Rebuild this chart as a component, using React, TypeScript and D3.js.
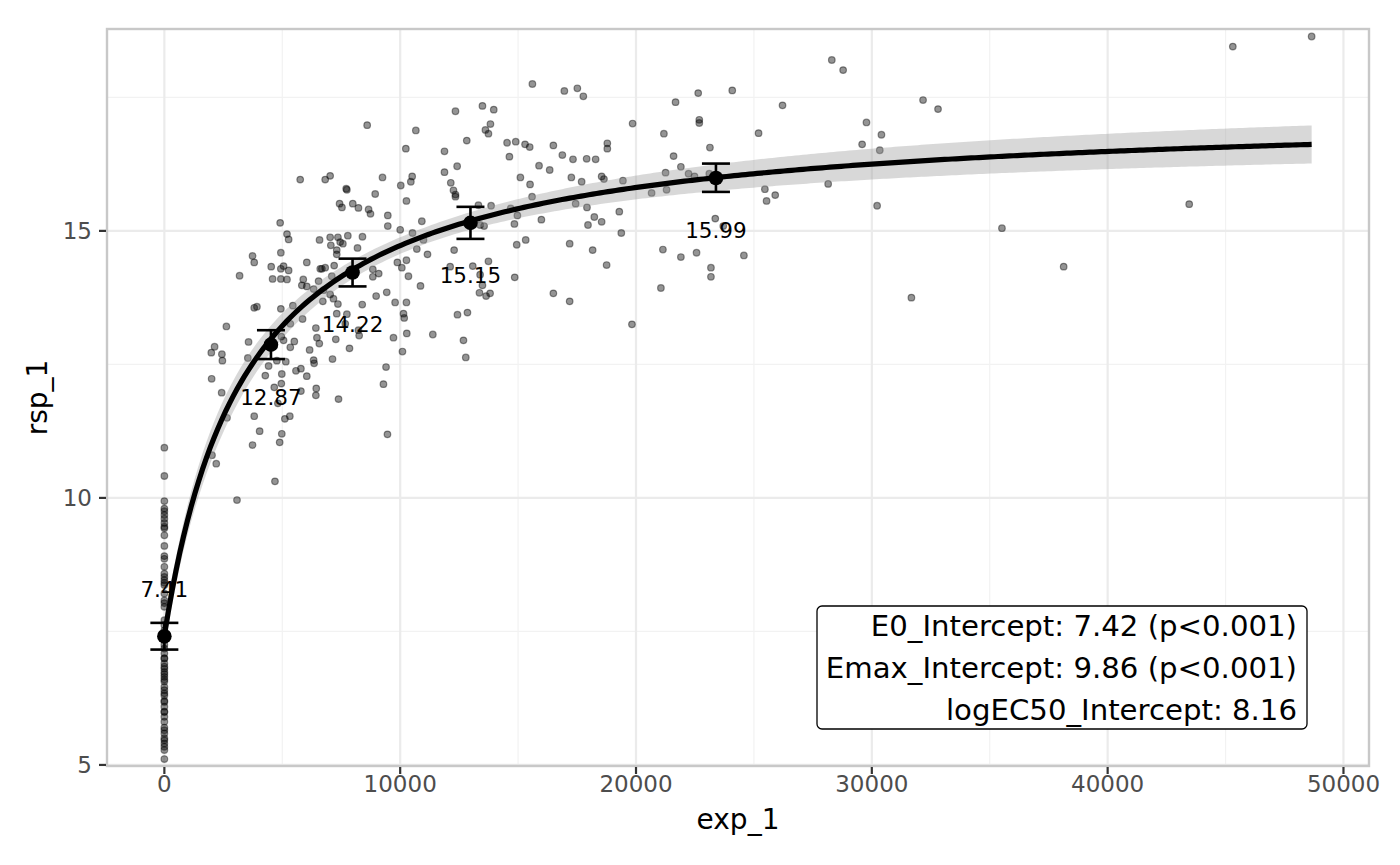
import React from "react";
import * as d3 from "d3";

// ---------- data ----------
const E0 = 7.42;
const Emax = 9.86;
const logEC50 = 8.16;

const annotationLines = [
  "E0_Intercept: 7.42 (p<0.001)",
  "Emax_Intercept: 9.86 (p<0.001)",
  "logEC50_Intercept: 8.16",
];

const xTicks = [0, 10000, 20000, 30000, 40000, 50000];
const xMinor = [5000, 15000, 25000, 35000, 45000];
const yTicks = [5, 10, 15];
const yMinor = [7.5, 12.5, 17.5];
const yLimits = [4.98, 18.78];

// binned summaries
const binExp = [0, 4520, 7980, 12980, 23390];
const binMean = [7.41, 12.87, 14.22, 15.15, 15.99];
const binLo = [7.16, 12.6, 13.96, 14.85, 15.73];
const binHi = [7.66, 13.14, 14.48, 15.45, 16.26];
const binLabelNudge = [0.88, -0.98, -0.96, -0.99, -0.98];

// observations at exposure 0
const rspAtZero = [
  10.94, 10.41, 9.94, 9.8, 9.75, 9.68, 9.61, 9.53, 9.46, 9.43, 9.3, 9.1, 8.91,
  8.86, 8.71, 8.58, 8.52, 8.46, 8.41, 8.37, 8.21, 8.08, 8.03, 7.96, 7.71, 7.52,
  7.34, 7.18, 7.09, 6.99, 6.9, 6.84, 6.74, 6.65, 6.56, 6.46, 6.34, 6.18, 6.09,
  5.99, 5.9, 5.81, 5.65, 5.59, 5.46, 5.4, 5.34, 5.28, 5.11, 7.45, 7.62, 7.25,
  6.2, 6.4, 6.6, 6.8, 5.7, 6.0, 7.0, 5.5, 6.3, 6.7,
];

// observations with low exposure (< ~10500)
const obsLow: [number, number][] = [
  [5760, 15.96], [6820, 15.96], [7030, 16.03], [7710, 15.79], [7740, 15.77], [9250, 16.0],
  [10025, 15.85], [8940, 15.69], [7990, 15.51], [7430, 15.51], [7530, 15.44], [8230, 15.43],
  [8660, 15.4], [8740, 15.32], [9475, 15.29], [10265, 15.56], [9475, 15.09], [10000, 15.02],
  [4910, 15.15], [5200, 14.94], [5270, 14.84], [6580, 14.83], [7030, 14.88], [7360, 14.88],
  [7455, 14.79], [7570, 14.76], [7780, 14.91], [8400, 14.89], [8190, 14.68], [7060, 14.73],
  [7310, 14.64], [7310, 14.56], [3740, 14.53], [3810, 14.41], [4940, 14.59], [6040, 14.41],
  [4530, 14.33], [4940, 14.29], [5055, 14.34], [5270, 14.26], [4590, 14.1], [4940, 14.1],
  [5200, 14.09], [3190, 14.16], [5890, 14.09], [5830, 13.98], [6040, 13.96], [6610, 14.29],
  [6680, 14.29], [6820, 14.31], [7200, 14.35], [6540, 14.06], [6330, 13.91], [6750, 13.89],
  [7100, 14.15], [7030, 13.81], [7170, 13.73], [7360, 13.63], [7310, 13.45], [6720, 13.68],
  [7740, 13.44], [7670, 13.26], [8390, 13.62], [8840, 14.28], [9090, 14.2], [8840, 14.14],
  [9880, 14.41], [10070, 14.31], [10265, 14.45], [10350, 14.15], [8980, 13.78], [9430, 13.85],
  [9785, 13.66], [10265, 13.66], [10140, 13.45], [10170, 13.37], [10280, 13.08], [3810, 13.56],
  [3925, 13.58], [4940, 13.54], [5450, 13.6], [5860, 13.35], [2630, 13.21], [2130, 12.83],
  [1990, 12.72], [2440, 12.69], [2460, 12.57], [3570, 12.92], [4960, 13.02], [5055, 12.95],
  [5340, 12.82], [5510, 12.93], [5340, 13.26], [6425, 13.18], [6470, 13.0], [6570, 12.89],
  [6160, 12.77], [6330, 12.58], [6350, 12.52], [7270, 12.97], [7850, 12.8], [8230, 13.14],
  [8260, 13.04], [7130, 12.6], [3540, 12.62], [4420, 12.47], [4770, 12.57], [5150, 12.55],
  [4280, 12.29], [4980, 12.32], [4960, 12.14], [4660, 12.07], [5580, 12.38], [5790, 12.42],
  [6040, 12.28], [6440, 12.05], [6425, 11.92], [5790, 12.0], [7385, 11.85], [2005, 12.23],
  [2430, 11.97], [4815, 11.77], [5110, 11.48], [5320, 11.53], [3810, 11.53], [4040, 11.25],
  [4980, 11.2], [4890, 11.04], [3740, 10.99], [2655, 11.5], [9400, 12.45], [9290, 12.13],
  [9715, 13.0], [10096, 12.74], [9460, 11.19], [2020, 10.8], [2200, 10.64], [4690, 10.31],
  [3080, 9.96], [8600, 16.98],
];

// observations with mid exposure (~10000 - 23000)
const obsMid: [number, number][] = [
  [15606, 17.75], [16961, 17.62], [17512, 17.67], [17766, 17.52], [22637, 17.58], [21677, 17.41],
  [12344, 17.24], [13488, 17.34], [13968, 17.27], [13827, 17.0], [13615, 16.89], [13742, 16.82],
  [10664, 16.88], [19856, 17.01], [21183, 16.82], [10240, 16.54], [11878, 16.49], [12824, 16.69],
  [14533, 16.65], [14900, 16.67], [15295, 16.62], [15493, 16.57], [16495, 16.6], [18783, 16.64],
  [18783, 16.54], [14631, 16.39], [16876, 16.42], [17328, 16.34], [17907, 16.35], [18288, 16.34],
  [21593, 16.4], [15888, 16.22], [16340, 16.14], [12415, 16.21], [11878, 16.1], [10508, 16.02],
  [10452, 15.92], [15097, 16.0], [15507, 15.87], [17258, 16.0], [17695, 15.92], [18543, 16.02],
  [18641, 15.97], [19446, 15.94], [21254, 16.09], [21903, 16.2], [22228, 16.07], [22482, 16.02],
  [20661, 15.71], [21296, 15.77], [12146, 15.9], [12259, 15.76], [12344, 15.68], [12344, 15.64],
  [15592, 15.64], [13318, 15.48], [13855, 15.47], [14688, 15.42], [17441, 15.51], [17921, 15.44],
  [18232, 15.26], [18543, 15.17], [17964, 15.11], [19291, 15.36], [15987, 15.21], [14970, 15.29],
  [14843, 15.13], [13558, 15.09], [13389, 15.11], [10918, 15.18], [10522, 14.96], [10988, 14.83],
  [11158, 14.56], [10706, 14.66], [12287, 14.64], [19376, 14.96], [14942, 14.74], [15323, 14.83],
  [17187, 14.76], [18161, 14.64], [21141, 14.65], [21903, 14.51], [22567, 14.59], [12118, 14.33],
  [13078, 14.34], [13742, 14.43], [18754, 14.36], [13389, 14.18], [13488, 13.98], [13361, 13.84],
  [13643, 13.78], [13812, 13.83], [10861, 13.97], [14857, 14.13], [16495, 13.83], [17187, 13.68],
  [21056, 13.93], [12429, 13.43], [12852, 13.47], [11384, 13.06], [19828, 13.25], [12683, 12.95],
  [12782, 12.63],
];

// observations with high exposure (> ~22500)
const obsHigh: [number, number][] = [
  [24081, 17.63], [22683, 17.08], [22683, 17.02], [23135, 16.56], [26213, 17.35], [25197, 16.83],
  [28303, 18.2], [28783, 18.01], [29772, 17.03], [30407, 16.8], [29588, 16.62], [30337, 16.51],
  [32172, 17.45], [32807, 17.28], [23107, 16.07], [25465, 15.78], [25536, 15.56], [25903, 15.67],
  [28148, 15.88], [30224, 15.47], [23361, 15.23], [23700, 15.09], [24575, 14.54], [23178, 14.31],
  [23178, 14.14], [31678, 13.75], [35518, 15.05], [45308, 18.45], [48650, 18.64], [43458, 15.5],
  [38135, 14.33],
];

// ---------- layout ----------
const W = 1400;
const H = 865;
const panel = { left: 107, top: 29, right: 1369, bottom: 766 };
const FONT = "'DejaVu Sans', sans-serif";

const observations: [number, number][] = [
  ...rspAtZero.map((v) => [0, v] as [number, number]),
  ...obsLow,
  ...obsMid,
  ...obsHigh,
];

const ec50 = Math.exp(logEC50);
const model = (x: number) => E0 + (Emax * x) / (ec50 + x);
const grad = (x: number) => {
  const g = x / (ec50 + x);
  return [1, g, -Emax * g * (1 - g)];
};

function inv3(m: number[][]) {
  const [a, b, c] = m[0];
  const [d, e, f] = m[1];
  const [g, h, i] = m[2];
  const A = e * i - f * h;
  const B = -(d * i - f * g);
  const C = d * h - e * g;
  const det = a * A + b * B + c * C;
  return [
    [A / det, -(b * i - c * h) / det, (b * f - c * e) / det],
    [B / det, (a * i - c * g) / det, -(a * f - c * d) / det],
    [C / det, -(a * h - b * g) / det, (a * e - b * d) / det],
  ];
}

// delta-method covariance of the fitted parameters
const M = [
  [0, 0, 0],
  [0, 0, 0],
  [0, 0, 0],
];
let rss = 0;
observations.forEach(([x, y]) => {
  const gr = grad(x);
  for (let i = 0; i < 3; i++) for (let j = 0; j < 3; j++) M[i][j] += gr[i] * gr[j];
  rss += (y - model(x)) ** 2;
});
const sigma2 = rss / (observations.length - 3);
const cov = inv3(M).map((r) => r.map((v) => v * sigma2));
const seAt = (x: number) => {
  const gr = grad(x);
  let s = 0;
  for (let i = 0; i < 3; i++) for (let j = 0; j < 3; j++) s += gr[i] * cov[i][j] * gr[j];
  return Math.sqrt(s);
};

export default function App() {
  const xMaxData = d3.max(observations, (d) => d[0]) as number;
  const pad = xMaxData * 0.05;
  const x = d3.scaleLinear().domain([-pad, xMaxData + pad]).range([panel.left, panel.right]);
  const y = d3.scaleLinear().domain(yLimits).range([panel.bottom, panel.top]);

  const grid = d3.range(0, 301).map((i) => (xMaxData * i) / 300);
  const curveLine = d3
    .line<number>()
    .x((d) => x(d))
    .y((d) => y(model(d)))
    .curve(d3.curveLinear);
  const band = d3
    .area<number>()
    .x((d) => x(d))
    .y0((d) => y(model(d) - 1.96 * seAt(d)))
    .y1((d) => y(model(d) + 1.96 * seAt(d)));

  const capHalf = 14;

  return (
    <svg width={W} height={H} style={{ display: "block", position: "absolute", left: 0, top: 0 }}>
      <rect x={0} y={0} width={W} height={H} fill="#ffffff" />
      <defs>
        <clipPath id="pclip">
          <rect x={panel.left} y={panel.top} width={panel.right - panel.left} height={panel.bottom - panel.top} />
        </clipPath>
      </defs>
      {/* grid */}
      <g>
        {xMinor.map((t) => (
          <line key={"xm" + t} x1={x(t)} x2={x(t)} y1={panel.top} y2={panel.bottom} stroke="#f2f2f2" strokeWidth={1.2} />
        ))}
        {yMinor.map((t) => (
          <line key={"ym" + t} x1={panel.left} x2={panel.right} y1={y(t)} y2={y(t)} stroke="#f2f2f2" strokeWidth={1.2} />
        ))}
        {xTicks.map((t) => (
          <line key={"xg" + t} x1={x(t)} x2={x(t)} y1={panel.top} y2={panel.bottom} stroke="#ebebeb" strokeWidth={2.2} />
        ))}
        {yTicks.map((t) => (
          <line key={"yg" + t} x1={panel.left} x2={panel.right} y1={y(t)} y2={y(t)} stroke="#ebebeb" strokeWidth={2.2} />
        ))}
      </g>
      <g clipPath="url(#pclip)">
        {observations.map(([ex, r], i) => (
          <circle
            key={i}
            cx={x(ex)}
            cy={y(r)}
            r={3.3}
            fill="#000"
            fillOpacity={0.42}
            stroke="#000"
            strokeOpacity={0.42}
            strokeWidth={1.2}
          />
        ))}
        <path d={band(grid) || ""} fill="#999999" fillOpacity={0.38} />
        <path d={curveLine(grid) || ""} fill="none" stroke="#000" strokeWidth={5.2} />
        {binExp.map((bx, i) => (
          <g key={"b" + i}>
            <line x1={x(bx)} x2={x(bx)} y1={y(binLo[i])} y2={y(binHi[i])} stroke="#000" strokeWidth={2.6} />
            <line x1={x(bx) - capHalf} x2={x(bx) + capHalf} y1={y(binLo[i])} y2={y(binLo[i])} stroke="#000" strokeWidth={2.6} />
            <line x1={x(bx) - capHalf} x2={x(bx) + capHalf} y1={y(binHi[i])} y2={y(binHi[i])} stroke="#000" strokeWidth={2.6} />
            <circle cx={x(bx)} cy={y(binMean[i])} r={7.3} fill="#000" />
          </g>
        ))}
        {binExp.map((bx, i) => (
          <text
            key={"bl" + i}
            x={x(bx)}
            y={y(binMean[i] + binLabelNudge[i])}
            dy="0.36em"
            textAnchor="middle"
            fontFamily={FONT}
            fontSize={21.5}
            fill="#000"
          >
            {binMean[i].toFixed(2)}
          </text>
        ))}
      </g>
      {/* panel border */}
      <rect
        x={panel.left}
        y={panel.top}
        width={panel.right - panel.left}
        height={panel.bottom - panel.top}
        fill="none"
        stroke="#c8c8c8"
        strokeWidth={2.4}
      />
      {/* axes ticks */}
      {xTicks.map((t) => (
        <g key={"xt" + t}>
          <line x1={x(t)} x2={x(t)} y1={panel.bottom + 1} y2={panel.bottom + 8} stroke="#333" strokeWidth={2.2} />
          <text x={x(t)} y={792} textAnchor="middle" fontFamily={FONT} fontSize={23} fill="#4d4d4d">
            {t}
          </text>
        </g>
      ))}
      {yTicks.map((t) => (
        <g key={"yt" + t}>
          <line x1={panel.left - 8} x2={panel.left - 1} y1={y(t)} y2={y(t)} stroke="#333" strokeWidth={2.2} />
          <text x={92} y={y(t)} dy="0.36em" textAnchor="end" fontFamily={FONT} fontSize={23} fill="#4d4d4d">
            {t}
          </text>
        </g>
      ))}
      {/* axis titles */}
      <text x={(panel.left + panel.right) / 2} y={829} textAnchor="middle" fontFamily={FONT} fontSize={28} fill="#000">
        exp_1
      </text>
      <text
        transform={`translate(47, ${(panel.top + panel.bottom) / 2}) rotate(-90)`}
        textAnchor="middle"
        fontFamily={FONT}
        fontSize={28}
        fill="#000"
      >
        rsp_1
      </text>
      {/* annotation */}
      <rect x={817} y={606} width={490} height={123} rx={5} ry={5} fill="#fff" stroke="#000" strokeWidth={1.3} />
      {annotationLines.map((s, i) => (
        <text key={"a" + i} x={1297} y={636 + i * 42} textAnchor="end" fontFamily={FONT} fontSize={29.2} fill="#000">
          {s}
        </text>
      ))}
    </svg>
  );
}
